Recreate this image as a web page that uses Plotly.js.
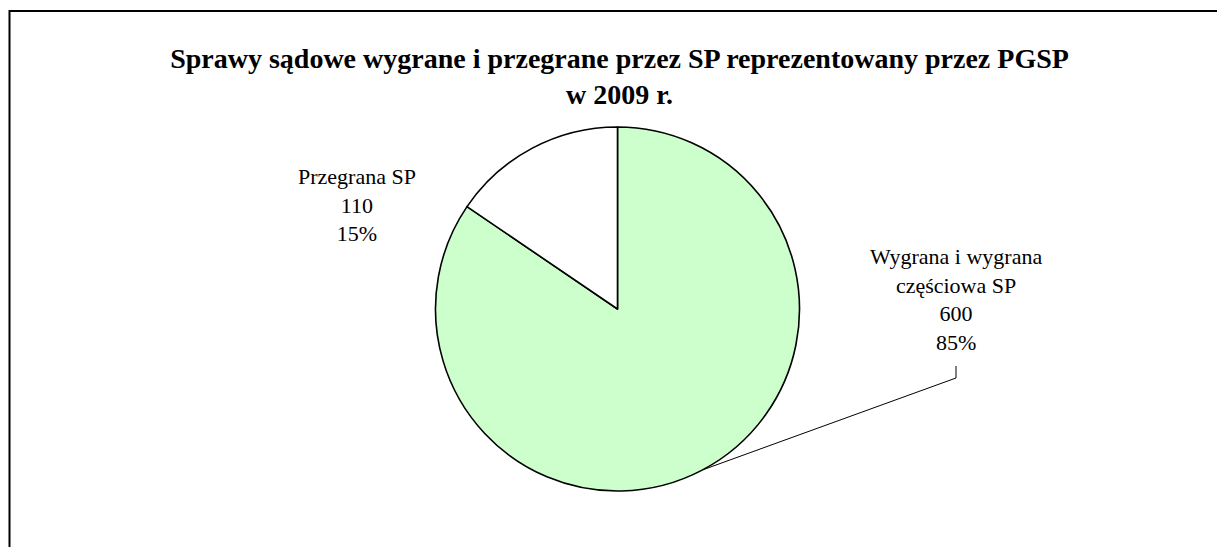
<!DOCTYPE html>
<html>
<head>
<meta charset="utf-8">
<script src="https://cdn.plot.ly/plotly-3.0.1.min.js"></script>
<style>body{margin:0;background:#fff;overflow:hidden}</style>
</head>
<body>
<div id="pie-plot" style="width:1217px;height:547px;"></div>
<script>
// slices: names, counts, fill colours
var sliceNames = ["Wygrana i wygrana częściowa SP", "Przegrana SP"];
var sliceLabelText = ["Wygrana i wygrana<br>częściowa SP", "Przegrana SP"];
var sliceValues = [600, 110];
var sliceColors = ["#ccffcc", "#ffffff"];

var W = 1217, H = 547;

// percentages for the labels
var total = sliceValues.reduce((a, b) => a + b, 0);
var slicePercents = sliceValues.map(v => Math.round(v / total * 100));

// pie placement in pixels
var cx = 617.5, cy = 309, r = 182;

var trace = {
  type: "pie",
  labels: sliceNames,
  values: sliceValues,
  sort: false,
  direction: "clockwise",
  rotation: 0,
  textinfo: "none",
  hoverinfo: "label+value+percent",
  marker: { colors: sliceColors, line: { color: "#000", width: 1.6 } },
  domain: { x: [(cx - r) / W, (cx + r) / W], y: [1 - (cy + r) / H, 1 - (cy - r) / H] },
  showlegend: false
};

// label text built from the data
var labelText = sliceNames.map((n, i) =>
  sliceLabelText[i] + "<br>" + sliceValues[i] + "<br>" + slicePercents[i] + "%");

// leader line ends at the middle of the big slice
var midFrac = (sliceValues[0] / 2) / total;
var ang = midFrac * 2 * Math.PI;
var endX = cx + r * Math.sin(ang), endY = cy - r * Math.cos(ang);
var toPx = (x, y) => (x / W) + " " + (1 - y / H);

var layout = {
  width: W, height: H,
  margin: { l: 0, r: 0, t: 0, b: 0 },
  paper_bgcolor: "#fff",
  font: { family: "Liberation Serif, serif", color: "#000" },
  title: {
    text: "Sprawy sądowe wygrane i przegrane przez SP reprezentowany przez PGSP<br>w 2009 r.",
    font: { family: "Liberation Serif, serif", size: 28, weight: "bold", color: "#000" },
    x: 619.5 / W, xanchor: "center",
    y: 1 - 68 / H, yanchor: "top", yref: "paper"
  },
  annotations: [
    { text: labelText[1], x: 357 / W, y: 1 - 205 / H, xref: "paper", yref: "paper",
      xanchor: "center", yanchor: "middle", showarrow: false, font: { size: 22 } },
    { text: labelText[0], x: 956 / W, y: 1 - 299 / H, xref: "paper", yref: "paper",
      xanchor: "center", yanchor: "middle", showarrow: false, font: { size: 22 } }
  ],
  shapes: [
    // outer frame
    { type: "rect", xref: "paper", yref: "paper", x0: 9.5 / W, x1: 1.05, y0: -0.05, y1: 1 - 11 / H,
      line: { color: "#000", width: 2 }, fillcolor: "rgba(0,0,0,0)" },
    // leader line for the big slice
    { type: "path", xref: "paper", yref: "paper",
      path: "M " + toPx(956, 366) + " L " + toPx(956, 378) + " L " + toPx(endX, endY),
      line: { color: "#000", width: 1 } }
  ]
};

Plotly.newPlot("pie-plot", [trace], layout, { displayModeBar: false, staticPlot: true });
</script>
</body>
</html>
